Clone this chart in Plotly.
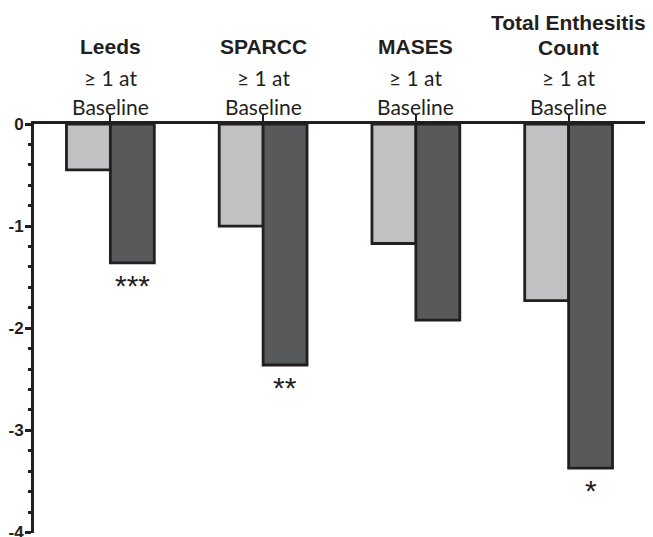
import plotly.graph_objects as go

categories = ["Leeds", "SPARCC", "MASES", "Total Enthesitis"]
title_lines = [["Leeds"], ["SPARCC"], ["MASES"], ["Total Enthesitis", "Count"]]
light_values = [-0.45, -1.0, -1.17, -1.73]
dark_values = [-1.36, -2.36, -1.92, -3.37]
significance = ["***", "**", "", "*"]
y_ticks = [0, -1, -2, -3, -4]

LIGHT = "#c0c1c3"
DARK = "#58595b"
EDGE = "#231f20"

fig = go.Figure()
fig.add_trace(go.Bar(x=categories, y=light_values, marker=dict(color=LIGHT, line=dict(color=EDGE, width=2.8)),
                     showlegend=False, hoverinfo="skip"))
fig.add_trace(go.Bar(x=categories, y=dark_values, marker=dict(color=DARK, line=dict(color=EDGE, width=2.8)),
                     showlegend=False, hoverinfo="skip"))

annotations = []
for cat, lines, sig, dv in zip(categories, title_lines, significance, dark_values):
    shifts = [78] if len(lines) == 1 else [102, 77]
    for line, ys in zip(lines, shifts):
        annotations.append(dict(x=cat, xref="x", y=1, yref="paper", yanchor="middle",
                                yshift=ys, text="<b>" + line + "</b>", showarrow=False,
                                font=dict(family="Liberation Sans", size=21, color=EDGE)))
    annotations.append(dict(x=cat, xref="x", y=1, yref="paper", yanchor="middle", yshift=47,
                            text="\u2265 1 at", showarrow=False,
                            font=dict(family="Lato", size=21, color=EDGE)))
    annotations.append(dict(x=cat, xref="x", y=1, yref="paper", yanchor="middle", yshift=18,
                            text="Baseline", showarrow=False,
                            font=dict(family="Lato", size=21, color=EDGE)))
    if sig:
        annotations.append(dict(x=cat, xref="x", xshift=22, y=dv, yref="y", yanchor="top", yshift=-4,
                                text=sig, showarrow=False,
                                font=dict(family="Liberation Sans", size=30, color=EDGE)))

fig.update_layout(
    width=653, height=537,
    margin=dict(l=34, r=8, t=124, b=4),
    paper_bgcolor="white", plot_bgcolor="white",
    barmode="group", bargap=0.425, bargroupgap=0,
    annotations=annotations,
    xaxis=dict(side="top", showline=True, linecolor=EDGE, linewidth=2.8,
               ticks="outside", ticklen=6, tickwidth=2, tickcolor=EDGE,
               showticklabels=False, showgrid=False, zeroline=False,
               range=[-0.5, 3.5], automargin=False),
    yaxis=dict(range=[-4.005, 0], tickvals=y_ticks, ticktext=[str(v) for v in y_ticks],
               showline=True, linecolor=EDGE, linewidth=3,
               ticks="outside", ticklen=6, tickwidth=2.5, tickcolor=EDGE,
               minor=dict(dtick=0.2, ticks="outside", ticklen=3, tickwidth=2.5, tickcolor=EDGE, showgrid=False),
               showgrid=False, zeroline=False, automargin=False, ticklabelstandoff=-2,
               ticklabeloverflow="allow",
               tickfont=dict(family="Liberation Sans", size=17, color=EDGE, weight="bold")),
)

fig.write_html("out.html", config={"displayModeBar": False},
               post_script="document.body.style.margin='0';")
